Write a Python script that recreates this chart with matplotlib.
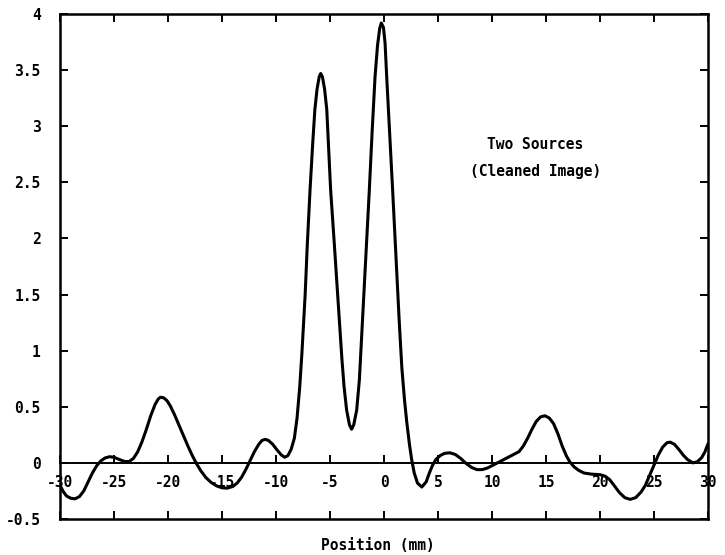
import matplotlib
matplotlib.use('Agg')
import matplotlib.pyplot as plt

# curve (position in mm, amplitude)
pos = [-30, -29.7, -29.4, -29.0, -28.6, -28.2, -27.8, -27.4, -27.0, -26.6,
       -26.2, -25.8, -25.4, -25.0, -24.5, -24.0, -23.6, -23.2, -22.8, -22.4,
       -22.0, -21.6, -21.2, -20.9, -20.7, -20.4, -20.1, -19.8, -19.4, -19.0,
       -18.6, -18.2, -17.8, -17.4, -17.0, -16.5, -16.0, -15.5, -15.0, -14.5,
       -14.0, -13.6, -13.2, -12.8, -12.4, -12.0, -11.6, -11.3, -11.0, -10.7,
       -10.3, -9.9, -9.5, -9.2, -8.9, -8.6, -8.3, -8.05, -7.8, -7.6, -7.3,
       -7.1, -6.85, -6.6, -6.4, -6.2, -6.0, -5.86, -5.7, -5.5, -5.3, -5.1,
       -4.94, -4.6, -4.2, -3.9, -3.7, -3.46, -3.2, -3.0, -2.8, -2.53, -2.28,
       -2.0, -1.7, -1.36, -1.1, -0.83, -0.6, -0.4, -0.25, -0.05, 0.1, 0.25,
       0.5, 0.8, 1.1, 1.4, 1.65, 1.9, 2.1, 2.35, 2.56, 2.8, 3.1, 3.5, 3.9,
       4.2, 4.5, 4.8, 5.2, 5.6, 6.1, 6.6, 7.1, 7.6, 8.1, 8.6, 9.1, 9.6, 10.1,
       10.7, 11.3, 11.9, 12.5, 12.9, 13.3, 13.7, 14.1, 14.5, 14.9, 15.3,
       15.7, 16.1, 16.5, 16.9, 17.2, 17.6, 18.0, 18.5, 19.2, 20.0, 20.5,
       20.9, 21.3, 21.8, 22.3, 22.8, 23.3, 23.8, 24.2, 24.6, 25.0, 25.4,
       25.8, 26.2, 26.5, 26.9, 27.3, 27.7, 28.1, 28.6, 29.0, 29.4, 29.7, 30.0]
amp = [-0.20, -0.255, -0.295, -0.315, -0.32, -0.30, -0.25, -0.17, -0.09,
       -0.025, 0.02, 0.045, 0.055, 0.05, 0.03, 0.012, 0.012, 0.04, 0.10,
       0.19, 0.30, 0.42, 0.52, 0.57, 0.585, 0.58, 0.555, 0.51, 0.43, 0.34,
       0.25, 0.16, 0.075, 0.0, -0.065, -0.13, -0.175, -0.205, -0.222, -0.225,
       -0.21, -0.18, -0.13, -0.06, 0.02, 0.10, 0.165, 0.2, 0.21, 0.2, 0.165,
       0.115, 0.07, 0.05, 0.065, 0.12, 0.22, 0.40, 0.68, 0.98, 1.5, 1.95,
       2.43, 2.85, 3.15, 3.33, 3.44, 3.47, 3.44, 3.33, 3.15, 2.75, 2.43, 1.95,
       1.37, 0.93, 0.68, 0.47, 0.34, 0.30, 0.34, 0.47, 0.74, 1.25, 1.8, 2.43,
       2.95, 3.44, 3.72, 3.87, 3.92, 3.88, 3.74, 3.44, 2.98, 2.43, 1.85, 1.28,
       0.85, 0.56, 0.37, 0.17, 0.03, -0.09, -0.18, -0.215, -0.17, -0.09,
       -0.02, 0.03, 0.065, 0.085, 0.09, 0.075, 0.04, -0.005, -0.04, -0.06,
       -0.06, -0.045, -0.02, 0.01, 0.04, 0.07, 0.10, 0.15, 0.22, 0.30, 0.37,
       0.41, 0.42, 0.40, 0.35, 0.26, 0.15, 0.06, 0.01, -0.035, -0.065, -0.09,
       -0.10, -0.105, -0.12, -0.15, -0.2, -0.265, -0.31, -0.325, -0.31, -0.26,
       -0.2, -0.11, -0.02, 0.07, 0.14, 0.18, 0.185, 0.165, 0.12, 0.07, 0.03,
       0.0, 0.01, 0.045, 0.095, 0.17]

xticks = [-30, -25, -20, -15, -10, -5, 0, 5, 10, 15, 20, 25, 30]
yticks = [-0.5, 0, 0.5, 1, 1.5, 2, 2.5, 3, 3.5, 4]
ylabels = ['-0.5', '0', '0.5', '1', '1.5', '2', '2.5', '3', '3.5', '4']

font = {'family': 'DejaVu Sans Mono', 'weight': 'bold', 'size': 10.5}

fig = plt.figure(figsize=(7.25, 5.55), dpi=100)
ax = fig.add_axes([60 / 725, 1 - 519 / 555, 648 / 725, 505 / 555])

ax.plot(pos, amp, color='black', lw=2.2, solid_capstyle='round',
        solid_joinstyle='round')
ax.set_xlim(-30, 30)
ax.set_ylim(-0.5, 4)

for s in ax.spines.values():
    s.set_linewidth(1.8)

# main bottom spine becomes the zero line carrying the x labels
ax.spines['bottom'].set_position(('data', 0))
ax.spines['bottom'].set_linewidth(1.4)
ax.set_xticks(xticks)
ax.set_xticklabels([str(t) for t in xticks], fontdict=font)
ax.tick_params(axis='x', direction='in', length=6, width=1.4, pad=9, top=True)

ax.set_yticks(yticks)
ax.set_yticklabels(ylabels, fontdict=font)
ax.tick_params(axis='y', direction='in', length=6, width=1.4, pad=14, right=True)

# frame line at the bottom with its own inward ticks
sec = ax.secondary_xaxis('bottom')
sec.spines['bottom'].set_linewidth(1.8)
sec.set_xticks(xticks)
sec.tick_params(axis='x', direction='in', length=6, width=1.4, labelbottom=False)

ax.text(14, 2.84, 'Two Sources', ha='center', va='center', fontdict=font)
ax.text(14, 2.6, '(Cleaned Image)', ha='center', va='center', fontdict=font)

fig.text(378 / 725, 1 - 546 / 555, 'Position (mm)', ha='center', va='center',
         fontdict=font)

fig.savefig('out.png', dpi=100)
plt.close(fig)
